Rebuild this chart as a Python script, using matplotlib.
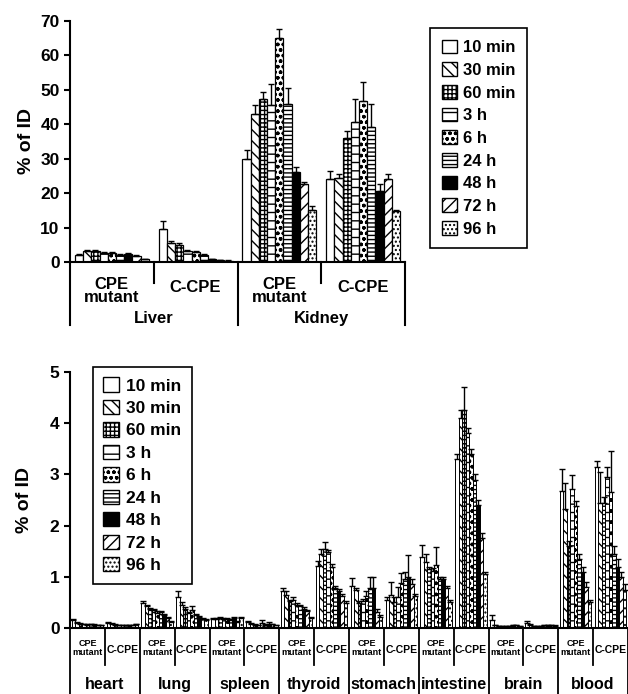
import matplotlib.pyplot as plt
from matplotlib.patches import Patch

plt.rcParams['font.family'] = ['Liberation Sans', 'DejaVu Sans']
plt.rcParams['font.weight'] = 'bold'
plt.rcParams['hatch.linewidth'] = 1.0

tiempos = ["10 min", "30 min", "60 min", "3 h", "6 h", "24 h", "48 h", "72 h", "96 h"]

# grafica de arriba: higado y rinon
liver_mut = [2.0, 3.1, 3.1, 2.6, 2.7, 2.1, 2.4, 1.8, 0.8]
liver_mut_err = [0.3, 0.4, 0.4, 0.3, 0.3, 0.3, 0.3, 0.2, 0.1]
liver_ccpe = [9.5, 5.6, 5.0, 3.2, 2.8, 2.0, 0.8, 0.5, 0.4]
liver_ccpe_err = [2.3, 0.4, 0.4, 0.3, 0.3, 0.3, 0.1, 0.1, 0.1]
kidney_mut = [30.0, 43.0, 47.3, 45.5, 65.2, 45.8, 26.0, 22.8, 15.1]
kidney_mut_err = [2.4, 2.7, 2.2, 6.3, 2.4, 4.8, 1.5, 0.5, 1.2]
kidney_ccpe = [24.2, 24.5, 36.1, 40.6, 46.7, 39.3, 20.6, 24.2, 14.8]
kidney_ccpe_err = [2.2, 1.0, 2.0, 6.6, 5.6, 6.5, 2.2, 1.5, 0.3]

# grafica de abajo: resto de organos
organos = ["heart", "lung", "spleen", "thyroid", "stomach", "intestine", "brain", "blood"]
heart_mut = [0.15, 0.10, 0.08, 0.07, 0.06, 0.07, 0.06, 0.05, 0.05]
heart_mut_err = [0.02, 0.01, 0.01, 0.01, 0.01, 0.01, 0.01, 0.01, 0.01]
heart_ccpe = [0.10, 0.08, 0.06, 0.05, 0.05, 0.05, 0.05, 0.05, 0.07]
heart_ccpe_err = [0.02, 0.01, 0.01, 0.01, 0.01, 0.01, 0.01, 0.01, 0.01]
lung_mut = [0.48, 0.42, 0.38, 0.35, 0.30, 0.32, 0.25, 0.20, 0.12]
lung_mut_err = [0.05, 0.02, 0.02, 0.02, 0.03, 0.02, 0.02, 0.02, 0.02]
lung_ccpe = [0.60, 0.45, 0.38, 0.30, 0.35, 0.25, 0.22, 0.18, 0.15]
lung_ccpe_err = [0.12, 0.05, 0.03, 0.02, 0.08, 0.03, 0.02, 0.02, 0.02]
spleen_mut = [0.18, 0.17, 0.19, 0.18, 0.18, 0.15, 0.19, 0.12, 0.20]
spleen_mut_err = [0.02, 0.02, 0.02, 0.02, 0.02, 0.02, 0.02, 0.02, 0.02]
spleen_ccpe = [0.12, 0.08, 0.06, 0.05, 0.10, 0.06, 0.08, 0.07, 0.05]
spleen_ccpe_err = [0.02, 0.01, 0.01, 0.01, 0.05, 0.01, 0.03, 0.01, 0.01]
thyroid_mut = [0.72, 0.65, 0.52, 0.55, 0.45, 0.42, 0.38, 0.33, 0.20]
thyroid_mut_err = [0.06, 0.08, 0.03, 0.05, 0.03, 0.03, 0.03, 0.03, 0.02]
thyroid_ccpe = [1.22, 1.45, 1.55, 1.48, 1.20, 0.78, 0.72, 0.62, 0.48]
thyroid_ccpe_err = [0.08, 0.10, 0.12, 0.05, 0.05, 0.05, 0.05, 0.05, 0.05]
stomach_mut = [0.82, 0.74, 0.48, 0.52, 0.62, 0.78, 0.78, 0.32, 0.22]
stomach_mut_err = [0.15, 0.05, 0.05, 0.05, 0.10, 0.22, 0.22, 0.05, 0.03]
stomach_ccpe = [0.55, 0.65, 0.50, 0.60, 0.88, 0.95, 1.00, 0.85, 0.62]
stomach_ccpe_err = [0.05, 0.25, 0.10, 0.20, 0.20, 0.15, 0.42, 0.10, 0.05]
intestine_mut = [1.38, 1.28, 1.15, 1.12, 1.24, 0.95, 0.95, 0.78, 0.50]
intestine_mut_err = [0.24, 0.17, 0.05, 0.05, 0.34, 0.05, 0.05, 0.05, 0.05]
intestine_ccpe = [3.30, 4.10, 4.25, 3.80, 3.40, 2.90, 2.40, 1.75, 1.05]
intestine_ccpe_err = [0.10, 0.15, 0.45, 0.10, 0.10, 0.10, 0.10, 0.10, 0.05]
brain_mut = [0.15, 0.05, 0.03, 0.03, 0.03, 0.03, 0.05, 0.05, 0.03]
brain_mut_err = [0.10, 0.01, 0.01, 0.01, 0.01, 0.01, 0.01, 0.01, 0.01]
brain_ccpe = [0.10, 0.06, 0.03, 0.03, 0.03, 0.05, 0.05, 0.05, 0.04]
brain_ccpe_err = [0.03, 0.02, 0.01, 0.01, 0.01, 0.01, 0.01, 0.01, 0.01]
blood_mut = [2.68, 2.33, 1.60, 2.71, 2.38, 1.35, 1.10, 0.80, 0.50]
blood_mut_err = [0.42, 0.50, 0.10, 0.27, 0.10, 0.10, 0.10, 0.10, 0.05]
blood_ccpe = [3.15, 2.45, 2.45, 2.95, 2.65, 1.45, 1.20, 1.00, 0.75]
blood_ccpe_err = [0.12, 0.60, 0.10, 0.20, 0.80, 0.15, 0.15, 0.10, 0.10]

patrones = ["", "\\\\\\", "++++", "--", "ooo", "----", "", "///", "...."]
fondos = ["white", "white", "white", "white", "white", "white", "black", "white", "white"]


def dibujar_grupo(ax, centro, valores, errores, ancho, lw):
    for j in range(9):
        x = centro + (j - 4) * ancho
        ax.bar(x, valores[j], width=ancho, color=fondos[j], edgecolor="black",
               hatch=patrones[j], linewidth=lw)
        ax.errorbar(x, valores[j], yerr=[[0], [errores[j]]], fmt="none",
                    ecolor="black", elinewidth=1.0, capsize=2, capthick=1.0)


def estilo_ejes(ax):
    ax.spines["top"].set_visible(False)
    ax.spines["right"].set_visible(False)
    ax.spines["left"].set_linewidth(1.5)
    ax.spines["bottom"].set_linewidth(1.5)
    ax.set_xticks([])
    ax.tick_params(axis="y", direction="out", length=4, width=1.5, labelsize=12.5)
    ax.set_ylabel("% of ID", fontsize=14, fontweight="bold")


fig = plt.figure(figsize=(6.28, 6.94), dpi=100)

# ---- arriba ----
ax1 = fig.add_axes([70 / 628, 1 - 262 / 694, 335 / 628, 241 / 694])
grupos_arriba = [(liver_mut, liver_mut_err), (liver_ccpe, liver_ccpe_err),
                 (kidney_mut, kidney_mut_err), (kidney_ccpe, kidney_ccpe_err)]
for i, (vals, errs) in enumerate(grupos_arriba):
    dibujar_grupo(ax1, i + 0.5, vals, errs, 0.098, 0.9)
ax1.set_xlim(0, 4)
ax1.set_ylim(0, 70)
ax1.set_yticks(range(0, 71, 10))
estilo_ejes(ax1)
ax1.yaxis.labelpad = 4

tr1 = ax1.get_xaxis_transform()
for xi in [1, 3]:
    ax1.plot([xi, xi], [0, -0.087], transform=tr1, color="black", lw=1.5, clip_on=False)
for xi in [0, 2, 4]:
    ax1.plot([xi, xi], [0, -0.26], transform=tr1, color="black", lw=1.5, clip_on=False)
for k in range(2):
    ax1.text(2 * k + 0.5, -0.12, "CPE\nmutant", transform=tr1, ha="center", va="center",
             fontsize=12, linespacing=0.85)
    ax1.text(2 * k + 1.5, -0.105, "C-CPE", transform=tr1, ha="center", va="center", fontsize=12)
ax1.text(1, -0.235, "Liver", transform=tr1, ha="center", va="center", fontsize=12)
ax1.text(3, -0.235, "Kidney", transform=tr1, ha="center", va="center", fontsize=12)

manejadores = [Patch(facecolor=fondos[j], edgecolor="black", hatch=patrones[j], label=tiempos[j])
               for j in range(9)]
leg1 = ax1.legend(handles=manejadores, loc="upper left", bbox_to_anchor=(430 / 628, 1 - 28 / 694),
                  bbox_transform=fig.transFigure, fancybox=False, edgecolor="black", framealpha=1,
                  fontsize=12, handlelength=0.9, handleheight=0.9, handletextpad=0.4,
                  labelspacing=0.42, borderpad=0.7, borderaxespad=0)
leg1.get_frame().set_linewidth(1.2)

# ---- abajo ----
ax2 = fig.add_axes([70 / 628, 1 - 628 / 694, 558 / 628, 256 / 694])
grupos_abajo = [
    (heart_mut, heart_mut_err), (heart_ccpe, heart_ccpe_err),
    (lung_mut, lung_mut_err), (lung_ccpe, lung_ccpe_err),
    (spleen_mut, spleen_mut_err), (spleen_ccpe, spleen_ccpe_err),
    (thyroid_mut, thyroid_mut_err), (thyroid_ccpe, thyroid_ccpe_err),
    (stomach_mut, stomach_mut_err), (stomach_ccpe, stomach_ccpe_err),
    (intestine_mut, intestine_mut_err), (intestine_ccpe, intestine_ccpe_err),
    (brain_mut, brain_mut_err), (brain_ccpe, brain_ccpe_err),
    (blood_mut, blood_mut_err), (blood_ccpe, blood_ccpe_err),
]
for i, (vals, errs) in enumerate(grupos_abajo):
    dibujar_grupo(ax2, i + 0.5, vals, errs, 0.1, 0.7)
ax2.set_xlim(0, 16)
ax2.set_ylim(0, 5)
ax2.set_yticks(range(0, 6))
estilo_ejes(ax2)
ax2.yaxis.labelpad = 12

tr2 = ax2.get_xaxis_transform()
for xi in range(17):
    fondo = -0.145 if xi % 2 else -0.3
    ax2.plot([xi, xi], [0, fondo], transform=tr2, color="black", lw=1.3, clip_on=False)
for k, org in enumerate(organos):
    ax2.text(2 * k + 0.5, -0.078, "CPE\nmutant", transform=tr2, ha="center", va="center",
             fontsize=6.5, linespacing=1.0)
    ax2.text(2 * k + 1.5, -0.086, "C-CPE", transform=tr2, ha="center", va="center", fontsize=7.5)
    ax2.text(2 * k + 1, -0.222, org, transform=tr2, ha="center", va="center", fontsize=11.5)

leg2 = ax2.legend(handles=manejadores, loc="upper left", bbox_to_anchor=(93 / 628, 1 - 367 / 694),
                  bbox_transform=fig.transFigure, fancybox=False, edgecolor="black", framealpha=1,
                  fontsize=12.5, handlelength=0.9, handleheight=0.9, handletextpad=0.4,
                  labelspacing=0.36, borderpad=0.6, borderaxespad=0)
leg2.get_frame().set_linewidth(1.2)

plt.savefig("out.png", dpi=100)
